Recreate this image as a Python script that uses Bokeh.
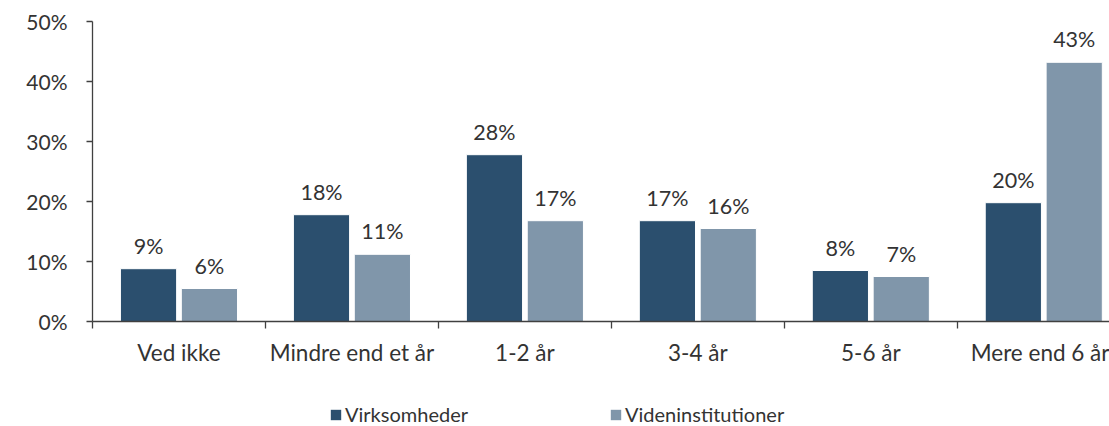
from bokeh.plotting import figure
from bokeh.layouts import column
from bokeh.models import (FixedTicker, PrintfTickFormatter, Legend, LegendItem,
                          ColumnDataSource, Range1d)
from bokeh.transform import dodge
from bokeh.core.properties import value
from bokeh.embed import file_html
from bokeh.resources import INLINE

categories = ["Ved ikke", "Mindre end et år", "1-2 år", "3-4 år", "5-6 år", "Mere end 6 år"]
virksomheder = [8.8, 17.8, 27.8, 16.8, 8.5, 19.8]
videninstitutioner = [5.5, 11.2, 16.8, 15.5, 7.5, 43.2]
virk_labels = ["9%", "18%", "28%", "17%", "8%", "20%"]
viden_labels = ["6%", "11%", "17%", "16%", "7%", "43%"]
series_names = ["Virksomheder", "Videninstitutioner"]
y_ticks = [0, 10, 20, 30, 40, 50]

DARK = "#2b4f6e"
LIGHT = "#8096aa"
TXT = "#333333"
FONT = "Lato"

centers = [i + 0.5 for i in range(len(categories))]
src = ColumnDataSource(dict(
    x=centers, v1=virksomheder, v2=videninstitutioner,
    l1=virk_labels, l2=viden_labels,
))

p = figure(width=1109, height=396, output_backend="svg", toolbar_location=None,
           x_range=Range1d(0, 5.88), y_range=Range1d(0, 50),
           min_border_left=92, min_border_right=0, min_border_top=21,
           min_border_bottom=75)
p.outline_line_color = None
p.grid.visible = False
p.background_fill_color = "white"
p.border_fill_color = "white"

off = 0.176
w = 0.325
p.vbar(x=dodge("x", -off, range=p.x_range), top="v1", width=w, source=src,
       fill_color=DARK, line_color="white", line_width=1)
p.vbar(x=dodge("x", off, range=p.x_range), top="v2", width=w, source=src,
       fill_color=LIGHT, line_color="white", line_width=1)

for col, lab, d in (("v1", "l1", -off), ("v2", "l2", off)):
    p.text(x=dodge("x", d, range=p.x_range), y=col, text=lab, source=src,
           text_align="center", text_baseline="alphabetic", y_offset=-23,
           text_font=value(FONT), text_font_size="21.5px", text_color=TXT)

# x axis
xa = p.xaxis[0]
xa.ticker = FixedTicker(ticks=centers, minor_ticks=list(range(len(categories) + 1)))
xa.major_label_overrides = {c: name for c, name in zip(centers, categories)}
xa.major_tick_out = 0
xa.major_tick_in = 0
xa.minor_tick_out = 7
xa.minor_tick_in = 0
xa.minor_tick_line_color = "#404040"
xa.minor_tick_line_width = 1.3
xa.axis_line_color = "#404040"
xa.axis_line_width = 1.3
xa.major_label_standoff = 10
xa.major_label_text_font = FONT
xa.major_label_text_font_size = "22.5px"
xa.major_label_text_color = TXT

# y axis
ya = p.yaxis[0]
ya.ticker = FixedTicker(ticks=y_ticks, minor_ticks=[])
ya.formatter = PrintfTickFormatter(format="%d%%")
ya.major_tick_out = 6
ya.major_tick_in = 0
ya.major_tick_line_color = "#404040"
ya.major_tick_line_width = 1.3
ya.axis_line_color = "#404040"
ya.axis_line_width = 1.3
ya.major_label_standoff = 19
ya.major_label_text_font = FONT
ya.major_label_text_font_size = "21px"
ya.major_label_text_color = TXT

# legend strip (separate figure, so the legend is not clipped by the chart frame)
lf = figure(width=1109, height=30, output_backend="svg", toolbar_location=None,
            x_range=Range1d(-20, -14), y_range=Range1d(-2, -1),
            x_axis_type=None, y_axis_type=None,
            min_border_left=0, min_border_right=0, min_border_top=0,
            min_border_bottom=0)
lf.outline_line_color = None
lf.grid.visible = False
# same data, kept outside the visible ranges: only the legend swatches show
l1 = lf.vbar(x="x", top="v1", width=0.3, source=src, fill_color=DARK,
             line_color=None)
l2 = lf.vbar(x="x", top="v2", width=0.3, source=src, fill_color=LIGHT,
             line_color=None)

legend = Legend(items=[LegendItem(label=series_names[0], renderers=[l1]),
                       LegendItem(label=series_names[1], renderers=[l2])],
                orientation="horizontal", location=(237, 0),
                glyph_width=13, glyph_height=13, label_standoff=3,
                label_width=264, spacing=0, padding=0, margin=0,
                label_height=20,
                label_text_font=FONT, label_text_font_size="20px",
                label_text_color=TXT, border_line_alpha=0,
                background_fill_alpha=0)
lf.add_layout(legend, "center")

layout = column(p, lf, spacing=0)
open("out.html", "w").write(file_html(layout, INLINE))
